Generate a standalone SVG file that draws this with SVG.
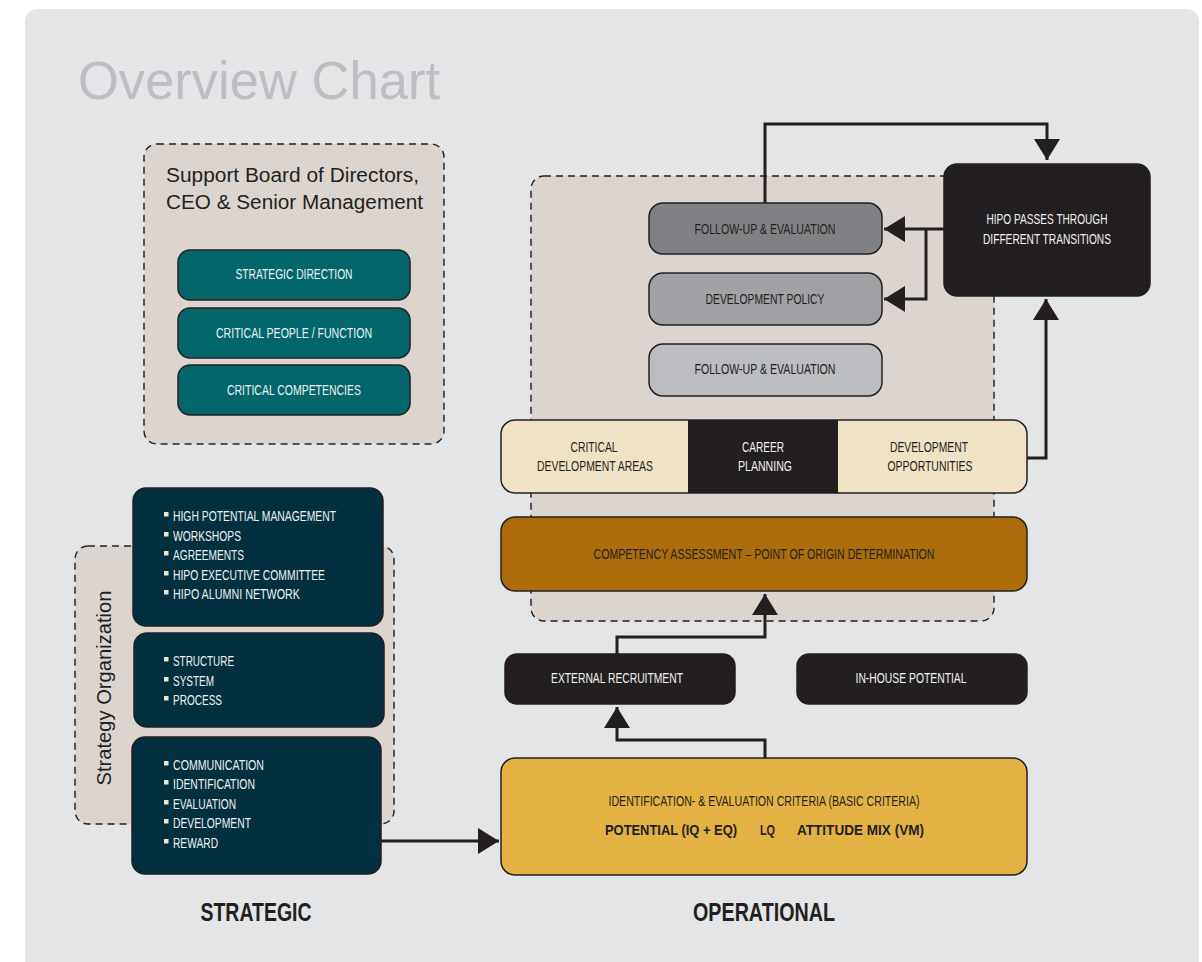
<svg xmlns="http://www.w3.org/2000/svg" width="1202" height="962" viewBox="0 0 1202 962">
<style>
  .t { font-family: "Liberation Sans", Arial, sans-serif; font-size: 15px; }
  .c { text-anchor: middle; }
  .w { fill: #eef2f1; }
  .d { fill: #231f20; }
  .cr { fill: #efe4c8; }
  .b { font-weight: bold; }
  .dash { fill: #dcd5cf; stroke: #231f20; stroke-width: 1.4; stroke-dasharray: 7 5; }
  .box { stroke: #231f20; stroke-width: 1.5; }
  .conn { fill: none; stroke: #231f20; stroke-width: 3; }
</style>
<defs>
  <marker id="ah" markerUnits="userSpaceOnUse" markerWidth="22" markerHeight="27" refX="21" refY="13" orient="auto">
    <path d="M0,0 L21,13 L0,26 Z" fill="#231f20"/>
  </marker>
</defs>

<rect x="25" y="9" width="1174" height="990" rx="13" fill="#e4e5e7"/>

<text x="78" y="99" font-family="Liberation Sans, Arial, sans-serif" font-size="53" fill="#bdbec1" textLength="362" lengthAdjust="spacingAndGlyphs">Overview Chart</text>

<!-- Support group -->
<g id="support">
  <rect class="dash" x="144" y="144" width="300" height="300" rx="13"/>
  <text x="166" y="182" font-family="Liberation Sans, Arial, sans-serif" font-size="20" fill="#231f20" textLength="253" lengthAdjust="spacingAndGlyphs">Support Board of Directors,</text>
  <text x="166" y="209" font-family="Liberation Sans, Arial, sans-serif" font-size="20" fill="#231f20" textLength="257" lengthAdjust="spacingAndGlyphs">CEO &amp; Senior Management</text>
</g>
<g id="strategic-direction">
  <rect class="box" x="178" y="250" width="232" height="50" rx="12" fill="#02666a"/>
  <text class="t c w" x="294" y="279" textLength="117" lengthAdjust="spacingAndGlyphs">STRATEGIC DIRECTION</text>
</g>
<g id="critical-people">
  <rect class="box" x="178" y="308" width="232" height="50" rx="12" fill="#02666a"/>
  <text class="t c w" x="294" y="338" textLength="156" lengthAdjust="spacingAndGlyphs">CRITICAL PEOPLE / FUNCTION</text>
</g>
<g id="critical-competencies">
  <rect class="box" x="178" y="365" width="232" height="50" rx="12" fill="#02666a"/>
  <text class="t c w" x="294" y="395" textLength="134" lengthAdjust="spacingAndGlyphs">CRITICAL COMPETENCIES</text>
</g>

<!-- Strategy organization -->
<g id="strategy-organization">
  <rect class="dash" x="75" y="546" width="319" height="278" rx="13"/>
  <text transform="translate(111,688) rotate(-90)" text-anchor="middle" font-family="Liberation Sans, Arial, sans-serif" font-size="21" fill="#231f20" textLength="195" lengthAdjust="spacingAndGlyphs">Strategy Organization</text>
</g>
<g id="hipo-management">
  <rect class="box" x="133" y="488" width="250" height="138" rx="13" fill="#03303e"/>
  <rect class="cr" x="164" y="512" width="4.5" height="4.5"/>
  <rect class="cr" x="164" y="532" width="4.5" height="4.5"/>
  <rect class="cr" x="164" y="551" width="4.5" height="4.5"/>
  <rect class="cr" x="164" y="571" width="4.5" height="4.5"/>
  <rect class="cr" x="164" y="590" width="4.5" height="4.5"/>
  <text class="t w" x="173" y="521" textLength="163" lengthAdjust="spacingAndGlyphs">HIGH POTENTIAL MANAGEMENT</text>
  <text class="t w" x="173" y="541" textLength="68" lengthAdjust="spacingAndGlyphs">WORKSHOPS</text>
  <text class="t w" x="173" y="560" textLength="71" lengthAdjust="spacingAndGlyphs">AGREEMENTS</text>
  <text class="t w" x="173" y="580" textLength="152" lengthAdjust="spacingAndGlyphs">HIPO EXECUTIVE COMMITTEE</text>
  <text class="t w" x="173" y="599" textLength="127" lengthAdjust="spacingAndGlyphs">HIPO ALUMNI NETWORK</text>
</g>
<g id="structure">
  <rect class="box" x="134" y="633" width="250" height="94" rx="13" fill="#03303e"/>
  <rect class="cr" x="164" y="657" width="4.5" height="4.5"/>
  <rect class="cr" x="164" y="677" width="4.5" height="4.5"/>
  <rect class="cr" x="164" y="696" width="4.5" height="4.5"/>
  <text class="t w" x="173" y="666" textLength="61" lengthAdjust="spacingAndGlyphs">STRUCTURE</text>
  <text class="t w" x="173" y="686" textLength="41" lengthAdjust="spacingAndGlyphs">SYSTEM</text>
  <text class="t w" x="173" y="705" textLength="49" lengthAdjust="spacingAndGlyphs">PROCESS</text>
</g>
<g id="communication">
  <rect class="box" x="132" y="737" width="249" height="137" rx="13" fill="#03303e"/>
  <rect class="cr" x="164" y="761" width="4.5" height="4.5"/>
  <rect class="cr" x="164" y="780" width="4.5" height="4.5"/>
  <rect class="cr" x="164" y="800" width="4.5" height="4.5"/>
  <rect class="cr" x="164" y="819" width="4.5" height="4.5"/>
  <rect class="cr" x="164" y="839" width="4.5" height="4.5"/>
  <text class="t w" x="173" y="770" textLength="91" lengthAdjust="spacingAndGlyphs">COMMUNICATION</text>
  <text class="t w" x="173" y="789" textLength="82" lengthAdjust="spacingAndGlyphs">IDENTIFICATION</text>
  <text class="t w" x="173" y="809" textLength="63" lengthAdjust="spacingAndGlyphs">EVALUATION</text>
  <text class="t w" x="173" y="828" textLength="78" lengthAdjust="spacingAndGlyphs">DEVELOPMENT</text>
  <text class="t w" x="173" y="848" textLength="45" lengthAdjust="spacingAndGlyphs">REWARD</text>
</g>

<text x="256" y="921" text-anchor="middle" font-family="Liberation Sans, Arial, sans-serif" font-size="26" font-weight="bold" fill="#231f20" textLength="111" lengthAdjust="spacingAndGlyphs">STRATEGIC</text>
<text x="764" y="921" text-anchor="middle" font-family="Liberation Sans, Arial, sans-serif" font-size="26" font-weight="bold" fill="#231f20" textLength="142" lengthAdjust="spacingAndGlyphs">OPERATIONAL</text>

<!-- Operational -->
<g id="operational-area">
  <rect class="dash" x="531" y="176" width="463" height="445" rx="13"/>
</g>
<g id="follow-up-1">
  <rect class="box" x="649" y="203" width="233" height="51" rx="14" fill="#808184"/>
  <text class="t c d" x="765" y="234" textLength="141" lengthAdjust="spacingAndGlyphs">FOLLOW-UP &amp; EVALUATION</text>
</g>
<g id="development-policy">
  <rect class="box" x="649" y="273" width="233" height="52" rx="14" fill="#a0a1a4"/>
  <text class="t c d" x="765" y="304" textLength="119" lengthAdjust="spacingAndGlyphs">DEVELOPMENT POLICY</text>
</g>
<g id="follow-up-2">
  <rect class="box" x="649" y="344" width="233" height="52" rx="14" fill="#bcbdc0"/>
  <text class="t c d" x="765" y="374" textLength="141" lengthAdjust="spacingAndGlyphs">FOLLOW-UP &amp; EVALUATION</text>
</g>
<g id="hipo-transitions">
  <rect class="box" x="944" y="164" width="206" height="132" rx="13" fill="#231f20"/>
  <text class="t c w" x="1047" y="224" textLength="121" lengthAdjust="spacingAndGlyphs">HIPO PASSES THROUGH</text>
  <text class="t c w" x="1047" y="244" textLength="128" lengthAdjust="spacingAndGlyphs">DIFFERENT TRANSITIONS</text>
</g>
<g id="career-band">
  <rect x="501" y="420" width="526" height="73" rx="14" fill="#f0e2c4"/>
  <rect x="688" y="420" width="150" height="73" fill="#231f20"/>
  <rect x="501" y="420" width="526" height="73" rx="14" fill="none" stroke="#231f20" stroke-width="1.5"/>
  <text class="t c d" x="594" y="452" textLength="47" lengthAdjust="spacingAndGlyphs">CRITICAL</text>
  <text class="t c d" x="595" y="471" textLength="116" lengthAdjust="spacingAndGlyphs">DEVELOPMENT AREAS</text>
  <text class="t c w" x="763" y="452" textLength="42" lengthAdjust="spacingAndGlyphs">CAREER</text>
  <text class="t c w" x="765" y="471" textLength="54" lengthAdjust="spacingAndGlyphs">PLANNING</text>
  <text class="t c d" x="929" y="452" textLength="78" lengthAdjust="spacingAndGlyphs">DEVELOPMENT</text>
  <text class="t c d" x="930" y="471" textLength="85" lengthAdjust="spacingAndGlyphs">OPPORTUNITIES</text>
</g>
<g id="competency-assessment">
  <rect class="box" x="501" y="517" width="526" height="74" rx="14" fill="#ad6c0a"/>
  <text class="t c d" x="764" y="559" textLength="341" lengthAdjust="spacingAndGlyphs">COMPETENCY ASSESSMENT – POINT OF ORIGIN DETERMINATION</text>
</g>
<g id="external-recruitment">
  <rect class="box" x="505" y="654" width="230" height="50" rx="12" fill="#231f20"/>
  <text class="t c w" x="617" y="683" textLength="132" lengthAdjust="spacingAndGlyphs">EXTERNAL RECRUITMENT</text>
</g>
<g id="in-house-potential">
  <rect class="box" x="797" y="654" width="230" height="50" rx="12" fill="#231f20"/>
  <text class="t c w" x="911" y="683" textLength="111" lengthAdjust="spacingAndGlyphs">IN-HOUSE POTENTIAL</text>
</g>
<g id="criteria">
  <rect class="box" x="501" y="758" width="526" height="117" rx="14" fill="#e3b242"/>
  <text class="t c d" x="764" y="806" textLength="311" lengthAdjust="spacingAndGlyphs">IDENTIFICATION- &amp; EVALUATION CRITERIA (BASIC CRITERIA)</text>
  <text class="t d b" x="605" y="835" textLength="132" lengthAdjust="spacingAndGlyphs">POTENTIAL (IQ + EQ)</text>
  <text class="t d b" x="760" y="835" textLength="15" lengthAdjust="spacingAndGlyphs">LQ</text>
  <text class="t d b" x="797" y="835" textLength="127" lengthAdjust="spacingAndGlyphs">ATTITUDE MIX (VM)</text>
</g>

<!-- Connectors -->
<g id="connectors">
  <path class="conn" d="M765,203 V124 H1047 V160" marker-end="url(#ah)"/>
  <path class="conn" d="M944,229 H884" marker-end="url(#ah)"/>
  <path class="conn" d="M926,229 V299 H884" marker-end="url(#ah)"/>
  <path class="conn" d="M1027,458 H1046 V299" marker-end="url(#ah)"/>
  <path class="conn" d="M617,654 V637 H765 V594" marker-end="url(#ah)"/>
  <path class="conn" d="M765,758 V740 H617 V707" marker-end="url(#ah)"/>
  <path class="conn" d="M381,841 H499" marker-end="url(#ah)"/>
</g>
</svg>
